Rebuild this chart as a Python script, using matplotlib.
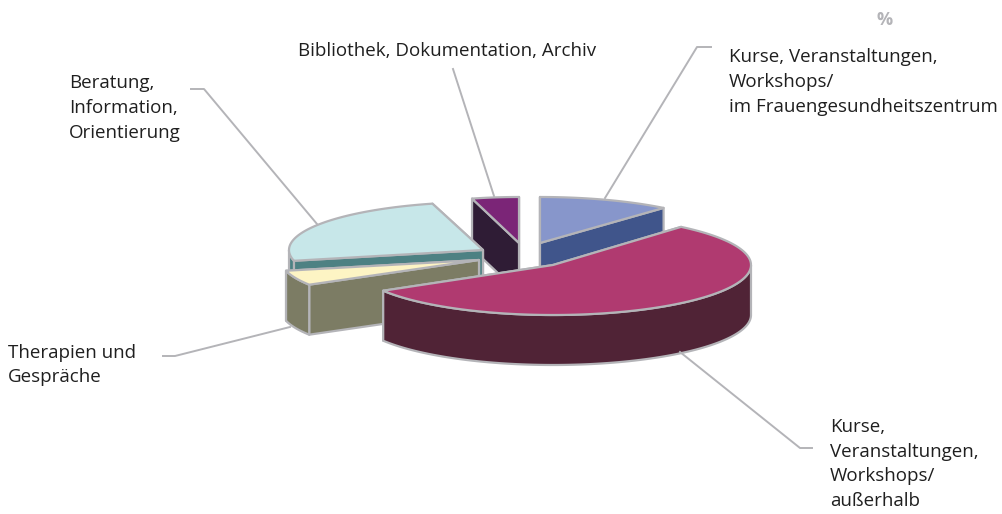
#!/usr/bin/python3

import matplotlib.pyplot as plt
import numpy
from matplotlib.patches import Polygon

plt.rcParams['font.family'] = ['Open Sans', 'DejaVu Sans']

# shares in percent, clockwise from 12 o'clock
sliceNames = ['Kurse FGZ', 'Kurse extern', 'Therapien', 'Beratung', 'Bibliothek']
shares = [11.2, 55.2, 5.0, 24.4, 4.2]

labelTexts = ['Kurse, Veranstaltungen,\nWorkshops/\nim Frauengesundheitszentrum',
    'Kurse,\nVeranstaltungen,\nWorkshops/\naußerhalb',
    'Therapien und\nGespräche',
    'Beratung,\nInformation,\nOrientierung',
    'Bibliothek, Dokumentation, Archiv']

# layout, in pixels of the picture
apexes = [(540, 243), (553, 265), (479, 260), (483, 250), (519, 243)]
radiiX = [191, 198, 198, 194, 180]
radiiY = [46, 50, 48, 48, 46]
depth = 50
labelPos = [(729, 82), (830, 464), (8, 365), (69, 108), (298, 51)]
leaders = [[(605, 198), (697, 47), (711, 47)],
    [(680, 352), (800, 448), (812, 448)],
    [(290, 327), (175, 356), (163, 356)],
    [(317, 224), (204, 89), (191, 89)],
    [(494, 196), (453, 69)]]

topColors = ['#8796cb', '#b03a70', '#fdf4c4', '#c7e7e9', '#7b2577']
wallColors = ['#40558b', '#502336', '#7c7c64', '#4d8183', '#2f1c35']
edgeColor = '#b4b4b8'
textColor = '#1f1f1f'
drawOrder = [4, 0, 3, 2, 1]

def arcPoints(iSlice, t):
  x = apexes[iSlice][0] + radiiX[iSlice] * numpy.cos(t)
  y = apexes[iSlice][1] - radiiY[iSlice] * numpy.sin(t)
  return numpy.column_stack((x, y))

def addFace(ax, pts, color):
  ax.add_patch(Polygon(pts, closed=True, facecolor=color, edgecolor=edgeColor,
      linewidth=1.6, joinstyle='round'))

def drawSlice(ax, iSlice, start, stop):
  t = numpy.linspace(start, stop, 120)
  arc = arcPoints(iSlice, t)
  apex = numpy.array(apexes[iSlice], float)
  down = numpy.array([0, depth])
  # the cut face further back goes first so the nearer one covers it
  for edge in sorted((arc[0], arc[-1]), key=lambda p: p[1]):
    addFace(ax, [apex, edge, edge + down, apex + down], wallColors[iSlice])
  front = arc[numpy.sin(t) <= 0]
  if len(front) > 1:
    addFace(ax, numpy.vstack((front, (front + down)[::-1])), wallColors[iSlice])
  addFace(ax, numpy.vstack((apex, arc)), topColors[iSlice])

fig = plt.figure(figsize=(10.03, 5.14), dpi=100)
ax = fig.add_axes([0, 0, 1, 1])
ax.set_xlim(0, 1003)
ax.set_ylim(514, 0)
ax.axis('off')

for line in leaders:
  pts = numpy.array(line)
  ax.plot(pts[:,0], pts[:,1], color=edgeColor, linewidth=1.4)

stops = numpy.pi / 2 - numpy.cumsum([0] + shares) / sum(shares) * 2 * numpy.pi
for iSlice in drawOrder:
  drawSlice(ax, iSlice, stops[iSlice], stops[iSlice + 1])

for text, pos in zip(labelTexts, labelPos):
  ax.text(pos[0], pos[1], text, ha='left', va='center', fontsize=13.5,
      color=textColor, linespacing=1.48)
ax.text(885, 20, '%', ha='center', va='center', fontsize=13, fontweight='bold', color='#b4b4b8')

fig.savefig('out.png', dpi=100)
